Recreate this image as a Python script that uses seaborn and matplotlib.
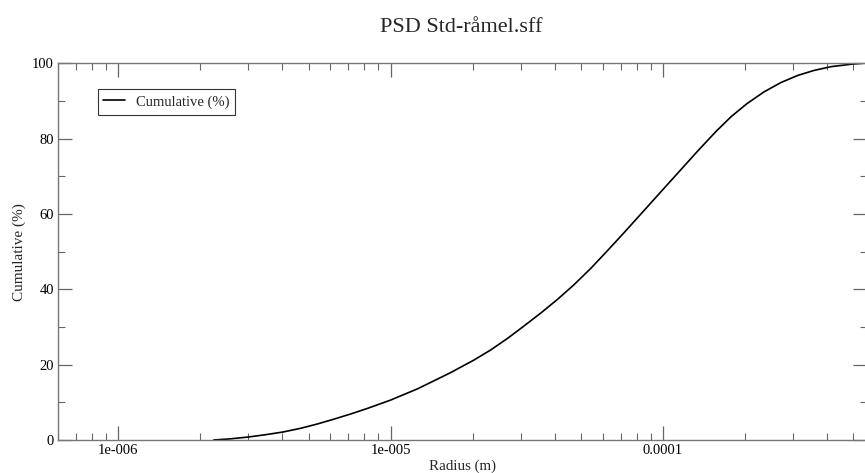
import numpy as np
import pandas as pd
import matplotlib
matplotlib.use("Agg")
import matplotlib.pyplot as plt
import matplotlib.ticker as mticker
import seaborn as sns

# Values
radius = [2.24e-6, 2.58e-6, 3.01e-6, 3.47e-6, 4.01e-6, 4.67e-6, 5.35e-6,
          6.17e-6, 7.13e-6, 8.23e-6, 1.0e-5, 1.257e-5, 1.662e-5, 2.02e-5,
          2.33e-5, 2.69e-5, 3.08e-5, 3.56e-5, 4.11e-5, 4.71e-5, 5.44e-5,
          6.28e-5, 7.19e-5, 8.30e-5, 1.0e-4, 1.165e-4, 1.345e-4, 1.566e-4,
          1.778e-4, 2.036e-4, 2.35e-4, 2.715e-4, 3.135e-4, 3.59e-4,
          4.146e-4, 4.995e-4, 5.44e-4]
cumulative = [0.0, 0.3, 0.8, 1.4, 2.1, 3.1, 4.2,
              5.5, 6.9, 8.4, 10.6, 13.6, 17.9, 21.2,
              23.9, 27.0, 30.2, 33.7, 37.4, 41.2, 45.6,
              50.4, 55.0, 60.0, 66.5, 71.8, 76.8, 81.9,
              85.8, 89.3, 92.4, 94.9, 96.8, 98.1,
              99.1, 99.8, 100.0]
x_ticks = [1e-6, 1e-5, 1e-4]
x_tick_labels = ["1e-006", "1e-005", "0.0001"]
y_ticks = [0, 20, 40, 60, 80, 100]

df = pd.DataFrame({"Radius (m)": radius, "Cumulative (%)": cumulative})

sns.set_theme(style="ticks")
plt.rcParams['font.family'] = ['Liberation Serif', 'DejaVu Serif']

fig = plt.figure(figsize=(8.65, 4.73), dpi=100)
ax = fig.add_axes([0.067, 0.0698, 0.935, 0.7965])

sns.lineplot(data=df, x="Radius (m)", y="Cumulative (%)", ax=ax,
             color="black", linewidth=1.2, label="Cumulative (%)")

ax.set_xscale("log")
ax.set_xlim(6.0e-7, 5.6e-4)
ax.set_ylim(0, 100)

ax.set_xticks(x_ticks)
ax.set_xticklabels(x_tick_labels)
ax.xaxis.set_minor_locator(mticker.LogLocator(base=10, subs=np.arange(2, 10)))
ax.xaxis.set_minor_formatter(mticker.NullFormatter())
ax.set_yticks(y_ticks)
ax.yaxis.set_minor_locator(mticker.MultipleLocator(10))

ax.tick_params(which="both", direction="in", top=True, right=True,
               colors="#666666", labelcolor="black", labelsize=10.5, pad=3)
ax.tick_params(which="major", length=10, width=0.9)
ax.tick_params(which="minor", length=5, width=0.8)

for side in ["left", "bottom", "top", "right"]:
    ax.spines[side].set_visible(True)
    ax.spines[side].set_color("#777777")
    ax.spines[side].set_linewidth(1.0)

ax.set_xlabel("Radius (m)", fontsize=10.8, labelpad=2)
ax.set_ylabel("Cumulative (%)", fontsize=11, labelpad=4)
fig.suptitle("PSD Std-råmel.sff", fontsize=16, x=0.533, y=0.963)

leg = ax.legend(loc="upper left", bbox_to_anchor=(0.04, 0.95), fontsize=10.5,
                frameon=True, fancybox=False, shadow=False,
                handlelength=1.5, borderpad=0.4, handletextpad=0.7)
leg.get_frame().set_edgecolor("black")
leg.get_frame().set_linewidth(0.8)

fig.savefig("out.png", dpi=100)
plt.close(fig)
